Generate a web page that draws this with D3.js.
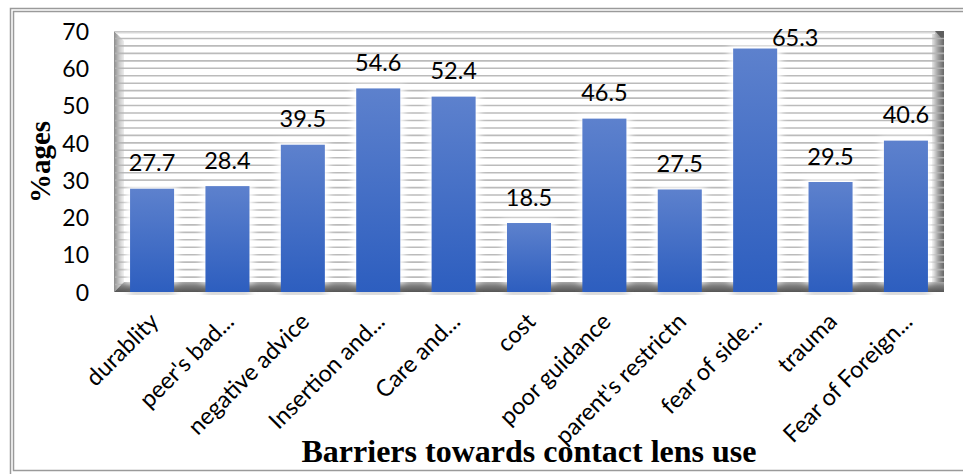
<!DOCTYPE html>
<html>
<head>
<meta charset="utf-8">
<script src="https://cdn.jsdelivr.net/npm/d3@7"></script>
<style>
  html, body { margin: 0; padding: 0; background: #fff; }
  svg { display: block; }
</style>
</head>
<body>
<svg id="chart" width="963" height="474"></svg>
<script>
// Barriers towards contact lens use (% of respondents)
const categories = [
  "durablity", "peer's bad...", "negative advice", "Insertion and...",
  "Care and...", "cost", "poor guidance", "parent's restrictn",
  "fear of side...", "trauma", "Fear of Foreign..."
];
const percentages = [27.7, 28.4, 39.5, 54.6, 52.4, 18.5, 46.5, 27.5, 65.3, 29.5, 40.6];
const yTicks = [0, 10, 20, 30, 40, 50, 60, 70];
const yTitle = "%ages";
const xTitle = "Barriers towards contact lens use";

const svg = d3.select("#chart");
const W = 963, H = 474;

// plot frame
const pLeft = 114, pRight = 944, pTop = 31, pBottom = 292;
const depth = 10;            // apparent 3D depth of walls / floor

const x = d3.scaleBand().domain(categories).range([pLeft, pRight])
  .paddingInner(0.416).paddingOuter(0.213);
const y = d3.scaleLinear().domain([0, 70]).range([pBottom, pTop]);

const defs = svg.append("defs");
function linGrad(id, x1, y1, x2, y2, stops) {
  const g = defs.append("linearGradient").attr("id", id)
    .attr("x1", x1).attr("y1", y1).attr("x2", x2).attr("y2", y2);
  stops.forEach(([o, c]) => g.append("stop").attr("offset", o).attr("stop-color", c));
}
linGrad("barFill", 0, 0, 0, 1, [[0, "#5d81cd"], [1, "#2d5ebf"]]);
linGrad("leftWall", 0, 0, 1, 0, [[0, "#8c8c8c"], [0.6, "#cfcfcf"], [1, "#ececec"]]);
linGrad("rightWall", 0, 0, 1, 0, [[0, "#e6e6e6"], [0.5, "#a0a0a0"], [1, "#666666"]]);
linGrad("floor", 0, 0, 0, 1, [[0, "#a8a8a8"], [0.4, "#7c7c7c"], [1, "#555555"]]);
linGrad("topEdge", 0, 0, 0, 1, [[0, "#bcbcbc"], [1, "#f6f6f6"]]);

const halo = defs.append("filter").attr("id", "halo")
  .attr("x", "-50%").attr("y", "-20%").attr("width", "200%").attr("height", "140%");
halo.append("feGaussianBlur").attr("stdDeviation", 3.5);

// outer double frame
svg.append("rect").attr("x", 10.5).attr("y", 8.5).attr("width", W).attr("height", H)
  .attr("fill", "none").attr("stroke", "#9a9a9a").attr("stroke-width", 1.5);
svg.append("rect").attr("x", 13.5).attr("y", 11.5).attr("width", W).attr("height", 459)
  .attr("fill", "none").attr("stroke", "#9a9a9a").attr("stroke-width", 1.5);

// back wall
svg.append("rect").attr("x", pLeft).attr("y", pTop).attr("width", pRight - pLeft)
  .attr("height", pBottom - pTop).attr("fill", "#ffffff");

// left side wall
svg.append("path")
  .attr("d", `M${pLeft},${pTop}L${pLeft + depth},${pTop + depth}L${pLeft + depth},${pBottom - depth}L${pLeft},${pBottom}Z`)
  .attr("fill", "url(#leftWall)");
// right edge of the wall
svg.append("rect").attr("x", pRight - 12).attr("y", pTop).attr("width", 12)
  .attr("height", pBottom - pTop).attr("fill", "url(#rightWall)");
svg.append("path")
  .attr("d", `M${pRight - 9},${pTop}L${pRight},${pTop}L${pRight},${pTop + 10}Z`)
  .attr("fill", "#5e5e5e");
// top edge
svg.append("path")
  .attr("d", `M${pLeft},${pTop}L${pRight - 9},${pTop}L${pRight - 9},${pTop + 3}L${pLeft + 3},${pTop + 3}Z`)
  .attr("fill", "url(#topEdge)");

// striped wall gridlines every 2 units
const stripes = d3.range(2, 70, 2);
svg.append("g").selectAll("line").data(stripes).join("line")
  .attr("x1", pLeft + 1).attr("x2", pRight)
  .attr("y1", d => y(d)).attr("y2", d => y(d))
  .attr("stroke", "#b4b4b4").attr("stroke-width", 1.6).attr("stroke-opacity", 0.9);

// floor
svg.append("path")
  .attr("d", `M${pLeft},${pBottom}L${pLeft + depth},${pBottom - depth}L${pRight},${pBottom - depth}L${pRight},${pBottom}Z`)
  .attr("fill", "url(#floor)");

// bars: soft white halo, then the gradient column
const bars = svg.append("g");
bars.selectAll("rect.halo").data(percentages).join("rect").attr("class", "halo")
  .attr("x", (d, i) => x(categories[i]) - 4)
  .attr("y", d => y(d) - 3)
  .attr("width", x.bandwidth() + 8)
  .attr("height", d => y(0) - y(d) - 6)
  .attr("fill", "#ffffff").attr("filter", "url(#halo)");
bars.selectAll("rect.shadow").data(percentages).join("rect").attr("class", "shadow")
  .attr("x", (d, i) => x(categories[i]) - 1)
  .attr("y", y(0) - 1)
  .attr("width", x.bandwidth() + 2)
  .attr("height", 3)
  .attr("fill", "#8a8a8a").attr("filter", "url(#halo)");
bars.selectAll("rect.bar").data(percentages).join("rect").attr("class", "bar")
  .attr("x", (d, i) => x(categories[i]))
  .attr("y", d => y(d))
  .attr("width", x.bandwidth())
  .attr("height", d => y(0) - y(d))
  .attr("fill", "url(#barFill)");

// value labels; a label that would hit the top of the wall moves up-right of its bar
const valueFont = "Lato, 'Open Sans', sans-serif";
const labelY = d => y(d) - 17.5;
const minLabelY = pTop + 15;
svg.append("g").selectAll("text").data(percentages).join("text")
  .attr("x", (d, i) => x(categories[i]) + x.bandwidth() / 2 + (labelY(d) < minLabelY ? 40 : 0))
  .attr("y", d => Math.max(labelY(d), minLabelY))
  .attr("text-anchor", "middle")
  .attr("font-family", valueFont).attr("font-size", 23.5).attr("fill", "#000")
  .text(d => d.toFixed(1));

// y axis tick labels
const yAxis = d3.axisLeft(y).tickValues(yTicks).tickSize(0).tickPadding(0);
const yg = svg.append("g").attr("transform", `translate(89,0)`).call(yAxis);
yg.select(".domain").remove();
yg.selectAll("text").attr("font-family", valueFont).attr("font-size", 23)
  .attr("fill", "#000").attr("dy", "0.36em");

// x axis category labels, rotated
const xAxis = d3.axisBottom(x).tickSize(0).tickPadding(0);
const xg = svg.append("g").attr("transform", `translate(0,${pBottom})`).call(xAxis);
xg.select(".domain").remove();
xg.selectAll(".tick text")
  .attr("font-family", valueFont).attr("font-size", 23.5).attr("fill", "#000")
  .attr("text-anchor", "end")
  .attr("x", 0).attr("y", 0).attr("dy", 0)
  .attr("transform", "translate(8,31) rotate(-45)");

// axis titles
svg.append("text")
  .attr("transform", "translate(50,162) rotate(-90)")
  .attr("text-anchor", "middle")
  .attr("font-family", "'Liberation Serif', 'Times New Roman', serif")
  .attr("font-weight", "bold").attr("font-size", 29).attr("fill", "#000")
  .text(yTitle);
svg.append("text")
  .attr("x", 529).attr("y", 462)
  .attr("text-anchor", "middle")
  .attr("font-family", "'Liberation Serif', 'Times New Roman', serif")
  .attr("font-weight", "bold").attr("font-size", 32).attr("fill", "#000")
  .text(xTitle);
</script>
</body>
</html>
